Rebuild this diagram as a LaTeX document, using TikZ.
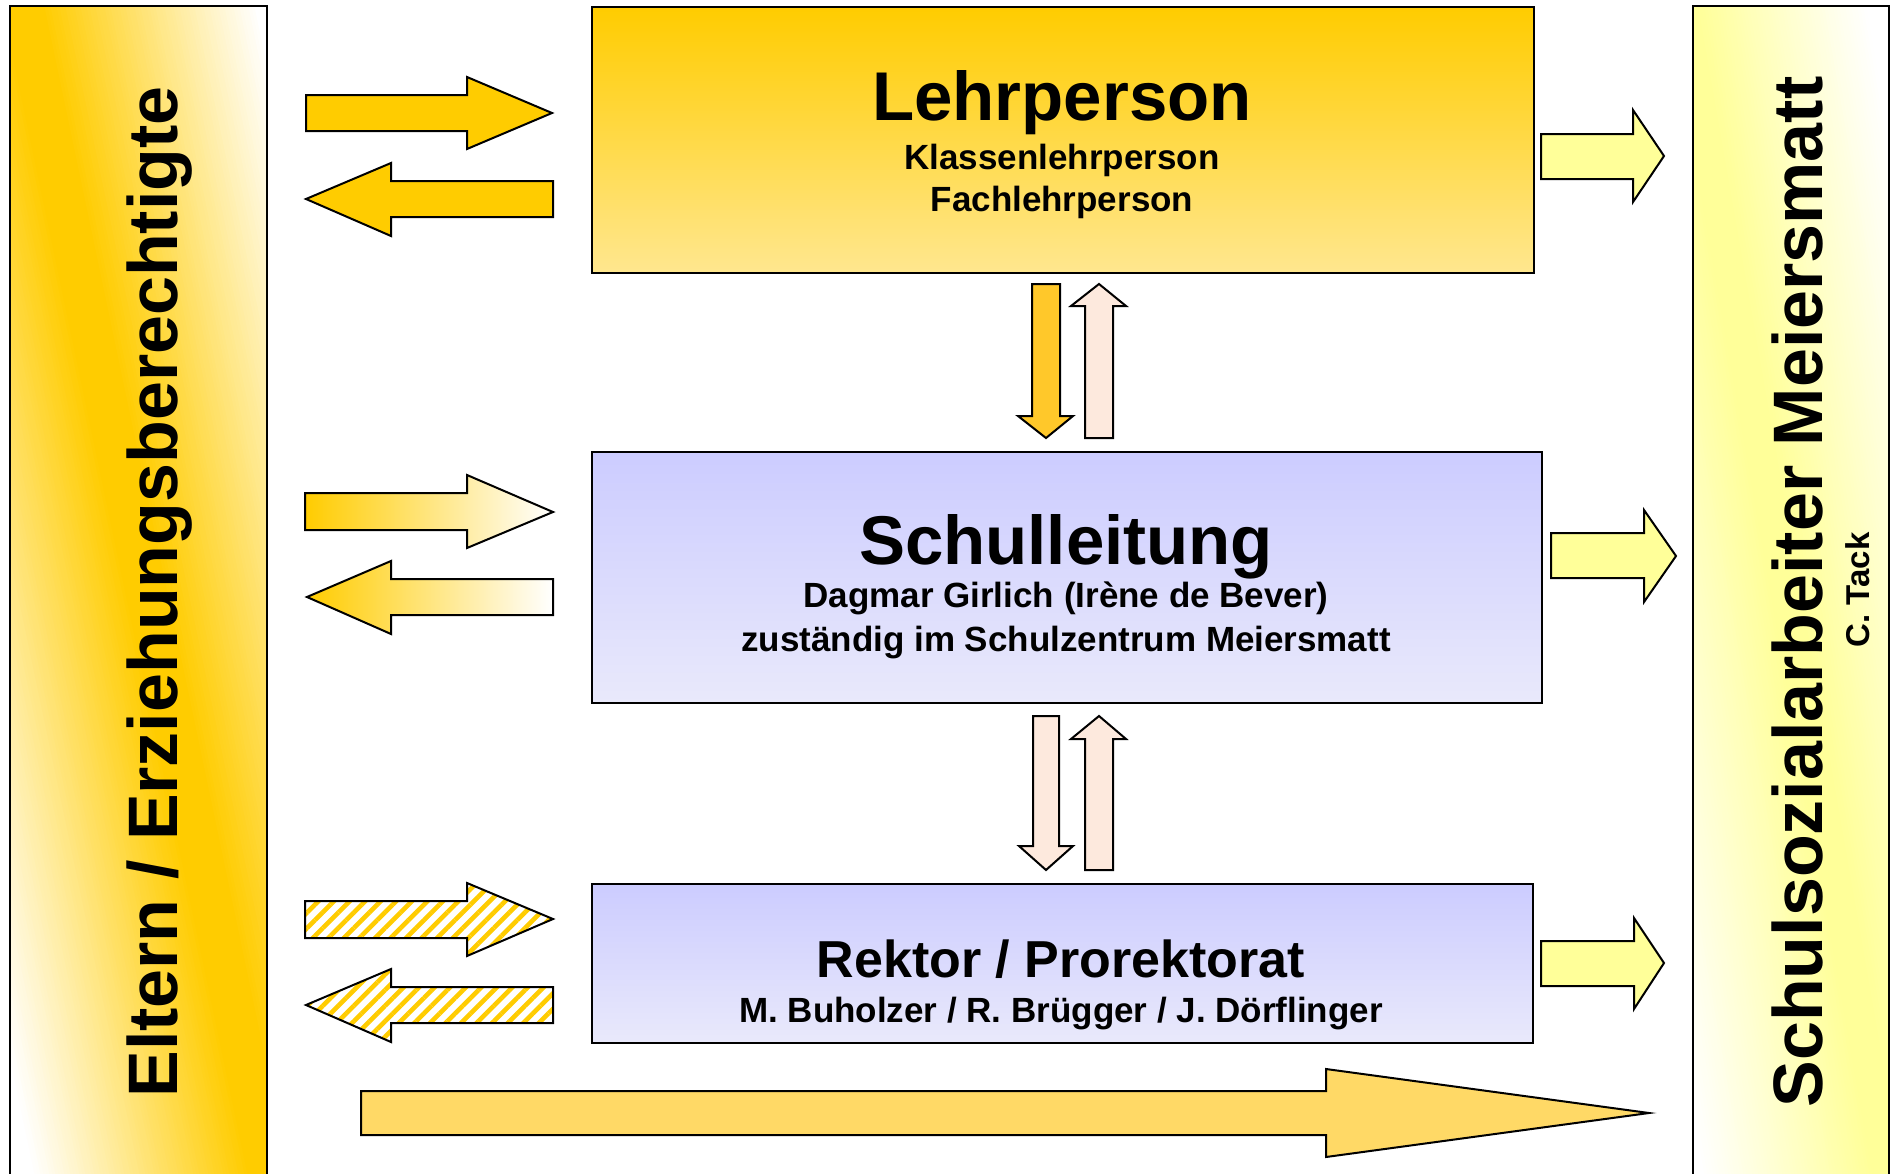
\documentclass[tikz,border=0pt]{standalone}
\usepackage{fontspec}
\setmainfont{Liberation Sans}
\usetikzlibrary{patterns.meta}
\definecolor{gold}{HTML}{FFCC00}
\definecolor{paleY}{HTML}{FFFF99}
\definecolor{peach}{HTML}{FDE9DD}
\definecolor{vgold}{HTML}{FFC82A}
\definecolor{lightgold}{HTML}{FFD966}
\definecolor{boxTop}{HTML}{FFCC00}
\definecolor{boxBot}{HTML}{FFE78F}
\definecolor{lavTop}{HTML}{CCCCFF}
\definecolor{lavBot}{HTML}{E9E9FB}
\begin{document}
\begin{tikzpicture}[x=1pt,y=-1pt,line join=miter,
  outl/.style={draw=black,line width=2pt},
  boxstyle/.style={outl,rectangle,inner sep=0pt,anchor=north west},
  yellowbox/.style={boxstyle,top color=boxTop,bottom color=boxBot},
  lavbox/.style={boxstyle,top color=lavTop,bottom color=lavBot},
  bigtitle/.style={anchor=base,inner sep=0pt,font=\bfseries\fontsize{69}{72}\selectfont},
  subtitle/.style={anchor=base,inner sep=0pt,font=\bfseries\fontsize{35}{38}\selectfont},
  bartitle/.style={anchor=base,inner sep=0pt,rotate=90,font=\bfseries\fontsize{70}{72}\selectfont},
  hatch/.style={outl,pattern={Lines[angle=45,distance=11pt,line width=4.6pt]},pattern color=gold}
]
\useasboundingbox (0,0) rectangle (1894,1173);
\clip (0,0) rectangle (1894,1173);
\fill[white] (0,0) rectangle (1894,1173);

% ---- left bar (diagonal gold band)
\begin{scope}
  \clip (10,6) rectangle (267,1190);
  \fill[white] (10,6) rectangle (267,1190);
  \foreach \d in {-262,-259,...,262}{
    \pgfmathtruncatemacro\p{max(0,min(100,(235-abs(\d))/2.15))}
    \fill[gold!\p!white] ({17.9+\d},-10) -- ({21.7+\d},-10) -- ({273.7+\d},1190) -- ({269.9+\d},1190) -- cycle;
  }
\end{scope}
\draw[outl] (10,1190) -- (10,6) -- (267,6) -- (267,1190);
\node[bartitle] (eltern) at (177,592) {Eltern / Erziehungsberechtigte};

% ---- right bar (diagonal pale yellow band)
\begin{scope}
  \clip (1693,6) rectangle (1889,1190);
  \fill[white] (1693,6) rectangle (1889,1190);
  \foreach \d in {-220,-217,...,220}{
    \pgfmathtruncatemacro\p{max(0,min(100,(185-abs(\d))/1.7))}
    \fill[paleY!\p!white] ({1678.25+\d},-10) -- ({1682.05+\d},-10) -- ({1892.05+\d},1190) -- ({1888.25+\d},1190) -- cycle;
  }
\end{scope}
\draw[outl] (1693,1190) -- (1693,6) -- (1889,6) -- (1889,1190);
\node[bartitle] (sozial) at (1822,592) {Schulsozialarbeiter Meiersmatt};
\node[bartitle,font=\bfseries\fontsize{33}{35}\selectfont] (tack) at (1869,590) {C. Tack};

% ---- boxes
\node[yellowbox,minimum width=942pt,minimum height=266pt] (lehr) at (591,6) {};
\node[bigtitle] (lehrT) at (1062,120) {Lehrperson};
\node[subtitle] (lehrS1) at (1062,169) {Klassenlehrperson};
\node[subtitle] (lehrS2) at (1062,211) {Fachlehrperson};

\node[lavbox,minimum width=950pt,minimum height=251pt] (sl) at (591,451) {};
\node[bigtitle] (slT) at (1066,564) {Schulleitung};
\node[subtitle] (slS1) at (1066,607) {Dagmar Girlich (Irène de Bever)};
\node[subtitle] (slS2) at (1066,651) {zuständig im Schulzentrum Meiersmatt};

\node[lavbox,minimum width=941pt,minimum height=159pt] (rek) at (591,883) {};
\node[bigtitle,font=\bfseries\fontsize{52}{54}\selectfont] (rekT) at (1061,977) {Rektor / Prorektorat};
\node[subtitle] (rekS) at (1061,1022) {M. Buholzer / R. Brügger / J. Dörflinger};

% ---- left arrows
\draw[outl,fill=gold] (306,95) -- (467,95) -- (467,77) -- (552,113) -- (467,149) -- (467,131) -- (306,131) -- cycle;
\draw[outl,fill=gold] (306,199) -- (391,163) -- (391,181) -- (553,181) -- (553,217) -- (391,217) -- (391,236) -- cycle;
\draw[outl,left color=gold,right color=white] (305,493) -- (467,493) -- (467,475) -- (553,512) -- (467,548) -- (467,530) -- (305,530) -- cycle;
\draw[outl,left color=gold,right color=white] (307,597) -- (391,561) -- (391,579) -- (553,579) -- (553,615) -- (391,615) -- (391,634) -- cycle;
\draw[hatch] (305,901) -- (467,901) -- (467,883) -- (553,919) -- (467,956) -- (467,938) -- (305,938) -- cycle;
\draw[hatch] (306,1005) -- (391,969) -- (391,987) -- (553,987) -- (553,1023) -- (391,1023) -- (391,1042) -- cycle;

% ---- big bottom arrow
\draw[outl,fill=lightgold] (361,1091) -- (1326,1091) -- (1326,1069) -- (1649,1113) -- (1326,1157) -- (1326,1135) -- (361,1135) -- cycle;

% ---- right arrows
\draw[outl,fill=paleY] (1541,134) -- (1633,134) -- (1633,110) -- (1664,156) -- (1633,202) -- (1633,179) -- (1541,179) -- cycle;
\draw[outl,fill=paleY] (1551,533) -- (1644,533) -- (1644,510) -- (1676,556) -- (1644,602) -- (1644,578) -- (1551,578) -- cycle;
\draw[outl,fill=paleY] (1541,941) -- (1634,941) -- (1634,918) -- (1664,963) -- (1634,1009) -- (1634,986) -- (1541,986) -- cycle;

% ---- vertical arrows
\draw[outl,fill=vgold] (1032,284) -- (1060,284) -- (1060,416) -- (1073,416) -- (1046,438) -- (1018,416) -- (1032,416) -- cycle;
\draw[outl,fill=peach] (1099,284) -- (1126,306) -- (1113,306) -- (1113,438) -- (1085,438) -- (1085,306) -- (1071,306) -- cycle;
\draw[outl,fill=peach] (1033,716) -- (1059,716) -- (1059,846) -- (1073,846) -- (1046,870) -- (1019,846) -- (1033,846) -- cycle;
\draw[outl,fill=peach] (1099,716) -- (1126,739) -- (1113,739) -- (1113,870) -- (1085,870) -- (1085,739) -- (1071,739) -- cycle;
\end{tikzpicture}
\end{document}
